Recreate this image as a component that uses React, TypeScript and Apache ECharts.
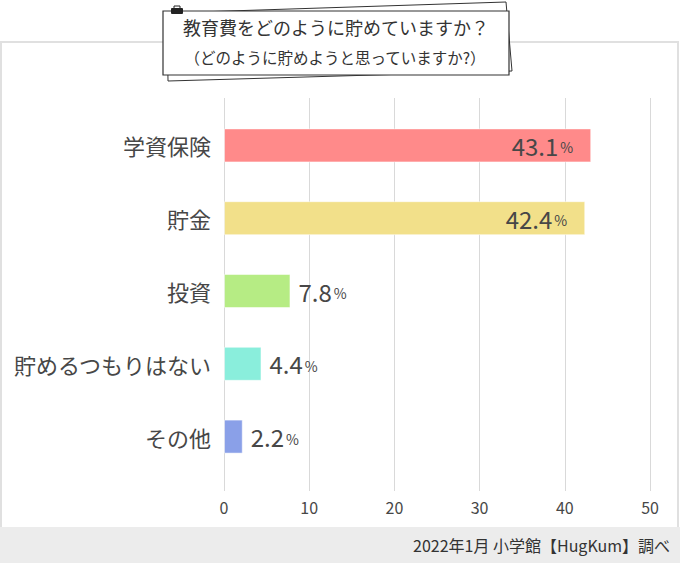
import React, { useEffect, useRef } from "react";
import * as echarts from "echarts";

const categories = ["学資保険", "貯金", "投資", "貯めるつもりはない", "その他"];
const values = [43.1, 42.4, 7.8, 4.4, 2.2];
const barColors = ["#FF8A8A", "#F2E08A", "#B6EC84", "#8AEEDC", "#8AA0E8"];
const insideLabel = [true, true, false, false, false];
const axisMin = 0;
const axisMax = 50;
const axisInterval = 10;
const titleLine1 = "教育費をどのように貯めていますか？";
const titleLine2 = "（どのように貯めようと思っていますか?）";
const sourceNote = "2022年1月 小学館【HugKum】調べ";

const FONT = "'Noto Sans CJK JP', 'Noto Sans', sans-serif";
const TEXT = "#474747";

export default function App() {
  const ref = useRef<HTMLDivElement>(null);
  useEffect(() => {
    document.body.style.margin = "0";
    if (!ref.current) return;
    const chart = echarts.init(ref.current, null, { renderer: "svg" });
    const data = values.map((v, i) => ({
      value: v,
      itemStyle: { color: barColors[i], borderColor: "rgba(255,255,255,0.5)", borderWidth: 1 },
      label: insideLabel[i]
        ? { position: "insideRight", distance: 18 }
        : { position: "right", distance: 8 },
    }));
    chart.setOption({
      animation: false,
      textStyle: { fontFamily: FONT },
      grid: [
        { left: 224, right: 30, top: 109, bottom: 90, containLabel: false },
        { left: 224, right: 30, top: 98, bottom: 72, containLabel: false },
      ],
      xAxis: [
        { gridIndex: 0, type: "value", min: axisMin, max: axisMax, show: false },
        {
          gridIndex: 1,
          type: "value",
          min: axisMin,
          max: axisMax,
          interval: axisInterval,
          axisLine: { show: false },
          axisTick: { show: false },
          splitLine: { show: true, lineStyle: { color: "#d9d9d9", width: 1 } },
          axisLabel: { color: TEXT, fontSize: 16, margin: 8, fontFamily: FONT },
        },
      ],
      yAxis: [
        {
          gridIndex: 0,
          type: "category",
          data: categories,
          inverse: true,
          axisLine: { show: false },
          axisTick: { show: false },
          axisLabel: { color: TEXT, fontSize: 22, margin: 13, fontFamily: FONT },
        },
        { gridIndex: 1, type: "category", data: categories, show: false },
      ],
      graphic: [
        {
          type: "rect",
          shape: { x: 1, y: 42, width: 677, height: 530 },
          style: { fill: "none", stroke: "#e0e0e0", lineWidth: 2 },
          z: 0,
        },
        {
          type: "rect",
          shape: { x: 0, y: 527, width: 680, height: 36 },
          style: { fill: "#ececec" },
          z: 1,
        },
        {
          type: "text",
          x: 670,
          y: 545,
          style: {
            text: sourceNote,
            fill: "#333",
            fontSize: 16,
            fontFamily: FONT,
            align: "right",
            verticalAlign: "middle",
          },
          z: 2,
        },
        {
          type: "polygon",
          shape: { points: [[167, 13], [506, 2], [512, 71], [168, 81]] },
          style: { fill: "#fff", stroke: "#333", lineWidth: 1 },
          z: 10,
        },
        {
          type: "rect",
          shape: { x: 163, y: 11, width: 346, height: 64 },
          style: { fill: "#fff", stroke: "#333", lineWidth: 1.2 },
          z: 11,
        },
        {
          type: "rect",
          shape: { x: 171, y: 8, width: 12, height: 6, r: 1 },
          style: { fill: "#222" },
          z: 12,
        },
        {
          type: "rect",
          shape: { x: 174, y: 6, width: 6, height: 3 },
          style: { fill: "none", stroke: "#222", lineWidth: 1 },
          z: 12,
        },
        {
          type: "text",
          x: 336,
          y: 27,
          style: {
            text: titleLine1,
            fill: "#333",
            fontSize: 18,
            fontFamily: FONT,
            align: "center",
            verticalAlign: "middle",
          },
          z: 13,
        },
        {
          type: "text",
          x: 335,
          y: 57,
          style: {
            text: titleLine2,
            fill: "#333",
            fontSize: 15.5,
            fontFamily: FONT,
            align: "center",
            verticalAlign: "middle",
          },
          z: 13,
        },
      ],
      series: [
        {
          type: "bar",
          xAxisIndex: 0,
          yAxisIndex: 0,
          barWidth: 34,
          data,
          z: 5,
          label: {
            show: true,
            color: TEXT,
            formatter: (p: any) => `{v|${p.value}}{p|%}`,
            rich: {
              v: { fontSize: 24, color: TEXT, fontFamily: FONT, verticalAlign: "bottom" },
              p: { fontSize: 14, color: TEXT, fontFamily: FONT, verticalAlign: "bottom", padding: [0, 0, 3, 2] },
            },
          },
        },
      ],
    });
    return () => chart.dispose();
  }, []);
  return <div ref={ref} style={{ width: 680, height: 563 }} />;
}
